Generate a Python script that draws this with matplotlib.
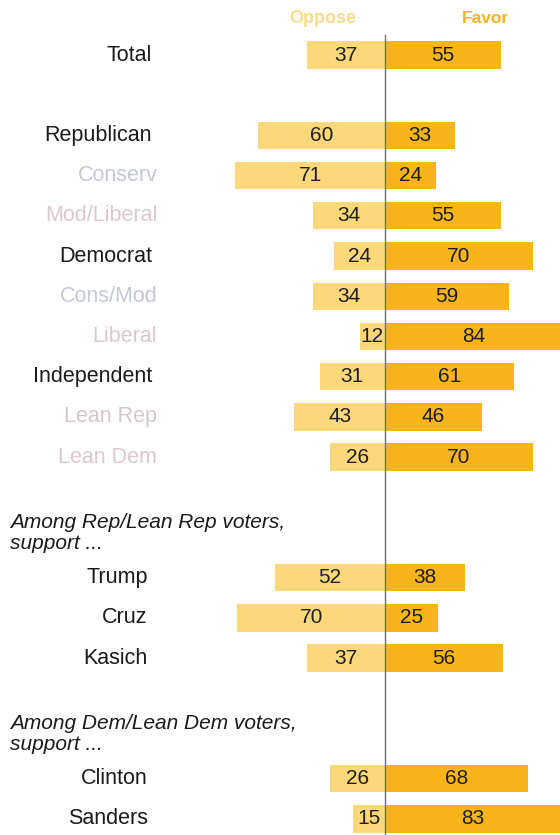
import matplotlib
matplotlib.use("Agg")
import matplotlib.pyplot as plt
import matplotlib.transforms as mtransforms

plt.rcParams['font.family'] = ['Liberation Sans', 'DejaVu Sans']

# survey rows, top to bottom
labels = ["Total",
          "Republican", "Conserv", "Mod/Liberal",
          "Democrat", "Cons/Mod", "Liberal",
          "Independent", "Lean Rep", "Lean Dem",
          "Trump", "Cruz", "Kasich",
          "Clinton", "Sanders"]
oppose = [37, 60, 71, 34, 24, 34, 12, 31, 43, 26, 52, 70, 37, 26, 15]
favor = [55, 33, 24, 55, 70, 59, 84, 61, 46, 70, 38, 25, 56, 68, 83]
# row kind: main group, sub group, candidate
kinds = ["main",
         "main", "sub", "sub",
         "main", "sub", "sub",
         "main", "sub", "sub",
         "cand", "cand", "cand",
         "cand", "cand"]
section_titles = {"Trump": "Among Rep/Lean Rep voters,\nsupport ...",
                  "Clinton": "Among Dem/Lean Dem voters,\nsupport ..."}

OPPOSE_COLOR = "#fdd87a"
FAVOR_COLOR = "#f8b418"
SUB_COLORS = {"Conserv": "#c4c8d4", "Cons/Mod": "#c4c8d4",
              "Mod/Liberal": "#dcc8cc", "Liberal": "#dcc8cc",
              "Lean Rep": "#d3c6cf", "Lean Dem": "#dcc8cc"}

# slot positions: blank slot after Total, two slots before each titled section
ys = []
y = 0
for i, lab in enumerate(labels):
    if lab == "Republican":
        y += 1
    if lab in section_titles:
        y += 2
    ys.append(y)
    y += 1

fig = plt.figure(figsize=(5.6, 8.35), dpi=100)
ax = fig.add_axes([0, 0, 1, 1])
ax.set_xlim(-385 / 2.11, 175 / 2.11)
ax.set_ylim(19.40, -1.368)
ax.axis("off")

bar_h = 0.68
ax.barh(ys, [-v for v in oppose], height=bar_h, color=OPPOSE_COLOR, zorder=1)
ax.barh(ys, favor, height=bar_h, color=FAVOR_COLOR, zorder=1)
ax.plot([0, 0], [-0.5, 19.4], color="#707070", lw=1, zorder=3)

for yy, o, f in zip(ys, oppose, favor):
    ax.text(-o / 2, yy, str(o), ha="center", va="center", fontsize=15,
            color="#1e1e1e", zorder=4)
    ax.text(f / 2, yy, str(f), ha="center", va="center", fontsize=15,
            color="#1e1e1e", zorder=4)

trans = mtransforms.blended_transform_factory(fig.transFigure, ax.transData)
label_x = {"main": 0.271, "sub": 0.281, "cand": 0.264}
for yy, lab, kind in zip(ys, labels, kinds):
    color = SUB_COLORS.get(lab, "#1a1a1a")
    ax.text(label_x[kind], yy, lab, transform=trans, ha="right", va="center",
            fontsize=15.5, color=color)
    if lab in section_titles:
        ax.text(0.018, yy - 1.12, section_titles[lab], transform=trans,
                ha="left", va="center", fontsize=15, style="italic",
                color="#1a1a1a", linespacing=1.15)

ax.text(-29.4, -0.92, "Oppose", ha="center", va="center", fontsize=13,
        fontweight="bold", color="#fbdc8c")
ax.text(47.4, -0.92, "Favor", ha="center", va="center", fontsize=12.5,
        fontweight="bold", color="#f5b420")

fig.savefig("out.png", dpi=100, facecolor="white")
